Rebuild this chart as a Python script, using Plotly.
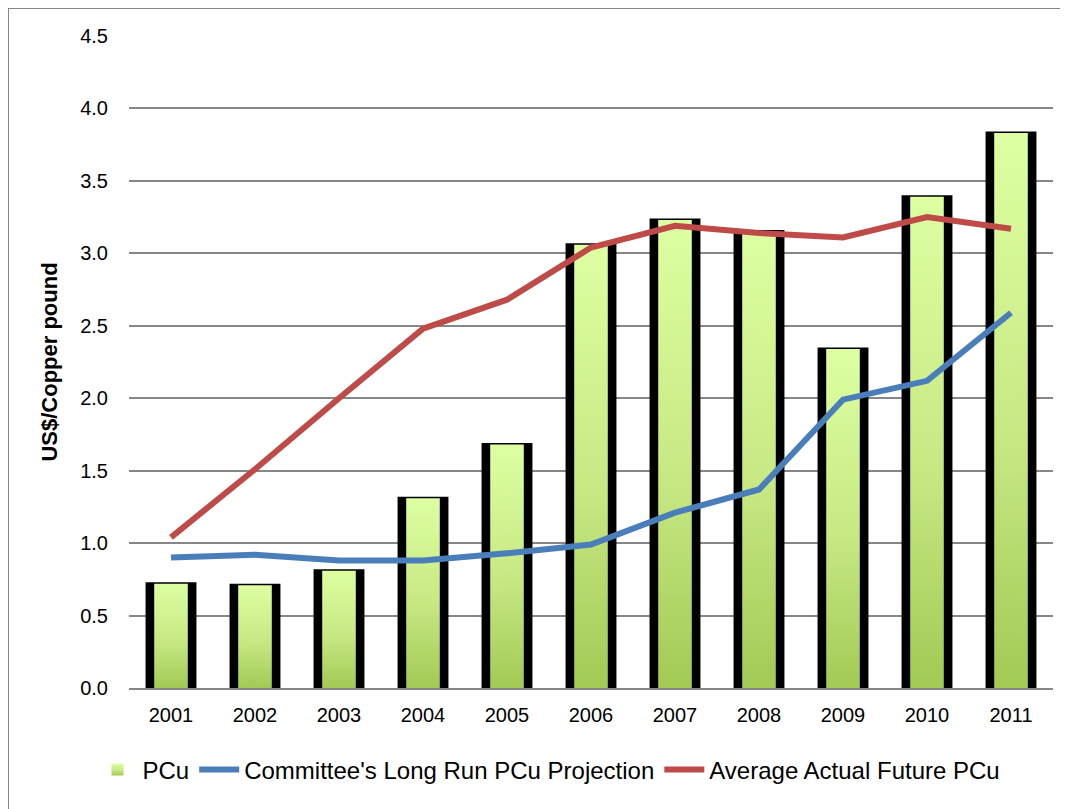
import plotly.graph_objects as go

years = ["2001", "2002", "2003", "2004", "2005", "2006", "2007", "2008", "2009", "2010", "2011"]
pcu = [0.72, 0.71, 0.81, 1.31, 1.68, 3.06, 3.23, 3.15, 2.34, 3.39, 3.83]
committee = [0.90, 0.92, 0.88, 0.88, 0.93, 0.99, 1.21, 1.37, 1.99, 2.12, 2.59]
average_future = [1.04, 1.51, 2.00, 2.48, 2.68, 3.04, 3.19, 3.14, 3.11, 3.25, 3.17]
y_ticks = [0.0, 0.5, 1.0, 1.5, 2.0, 2.5, 3.0, 3.5, 4.0, 4.5]

OFF = 8  # page body margin
W, H = 1068, 809
ML = 129 - OFF
MT = 36 - OFF
PLOT_RIGHT = 1053 - OFF
PLOT_BOTTOM = 688 - OFF
MR = W - PLOT_RIGHT
MB = H - PLOT_BOTTOM
pw, ph = W - ML - MR, H - MT - MB

FONT = "Liberation Sans, Arial, sans-serif"
GRID = "#878787"

fig = go.Figure()
fig.add_trace(go.Bar(x=years, y=pcu, width=0.57, marker=dict(color="black", line=dict(color="black", width=3)),
                     showlegend=False, hoverinfo="skip"))
fig.add_trace(go.Bar(x=years, y=pcu, width=0.40, name="PCu",
                     marker=dict(color="#C4E57C", line=dict(width=0))))
fig.add_trace(go.Scatter(x=years, y=committee, mode="lines", name="Committee's Long Run PCu Projection",
                         line=dict(color="#4A7EBB", width=6)))
fig.add_trace(go.Scatter(x=years, y=average_future, mode="lines", name="Average Actual Future PCu",
                         line=dict(color="#BE4B48", width=6)))

def px_x(p):  # screen pixel -> paper
    return (p - OFF - ML) / pw

def px_y(p):
    return (PLOT_BOTTOM - (p - OFF)) / ph

# chart border (top and left edges visible)
fig.add_shape(type="line", xref="paper", yref="paper",
              x0=px_x(8), x1=px_x(1100), y0=px_y(8), y1=px_y(8),
              line=dict(color=GRID, width=2), layer="below")
fig.add_shape(type="line", xref="paper", yref="paper",
              x0=px_x(8), x1=px_x(8), y0=px_y(7), y1=px_y(840),
              line=dict(color=GRID, width=2), layer="below")

fig.update_layout(
    width=W, height=H,
    margin=dict(l=ML, r=MR, t=MT, b=MB),
    paper_bgcolor="white", plot_bgcolor="white",
    barmode="overlay",
    font=dict(family=FONT, color="black"),
    xaxis=dict(showgrid=False, showline=True, linecolor=GRID, linewidth=2, ticks="",
               tickfont=dict(size=20), ticklabelstandoff=8),
    yaxis=dict(range=[0, 4.5], tickvals=y_ticks, tickformat=".1f", showgrid=True, gridcolor=GRID,
               gridwidth=2, zeroline=False, showline=False, ticks="", tickfont=dict(size=20),
               ticklabelstandoff=20,
               title=dict(text="<b>US$/Copper pound</b>", font=dict(size=22), standoff=16)),
    legend=dict(orientation="h", x=px_x(549), y=px_y(770), xanchor="center", yanchor="middle",
                font=dict(size=24), traceorder="normal", itemwidth=40),
)

post = """
document.documentElement.style.overflow = 'hidden';
document.body.style.overflow = 'hidden';
var gd = document.getElementById('{plot_id}');
var svg = gd.querySelector('.main-svg');
var ns = 'http://www.w3.org/2000/svg';
var defs = svg.querySelector('defs');
if (!defs) { defs = document.createElementNS(ns, 'defs'); svg.insertBefore(defs, svg.firstChild); }
var lg = document.createElementNS(ns, 'linearGradient');
lg.setAttribute('id', 'pcuGrad'); lg.setAttribute('x1', '0'); lg.setAttribute('y1', '0');
lg.setAttribute('x2', '0'); lg.setAttribute('y2', '1');
[['0%', '#DEFFA2'], ['55%', '#C8E884'], ['100%', '#A2CA55']].forEach(function(s) {
  var st = document.createElementNS(ns, 'stop');
  st.setAttribute('offset', s[0]); st.setAttribute('stop-color', s[1]); lg.appendChild(st);
});
defs.appendChild(lg);
var traces = gd.querySelectorAll('.barlayer .trace');
if (traces.length > 1) {
  traces[1].querySelectorAll('path').forEach(function(p) { p.style.fill = 'url(#pcuGrad)'; });
}
var leg = gd.querySelectorAll('.legend .traces');
if (leg.length > 0) {
  leg[0].querySelectorAll('.legendpoints path').forEach(function(p) { p.style.fill = 'url(#pcuGrad)'; });
}
"""

fig.write_html("out.html", post_script=post)
